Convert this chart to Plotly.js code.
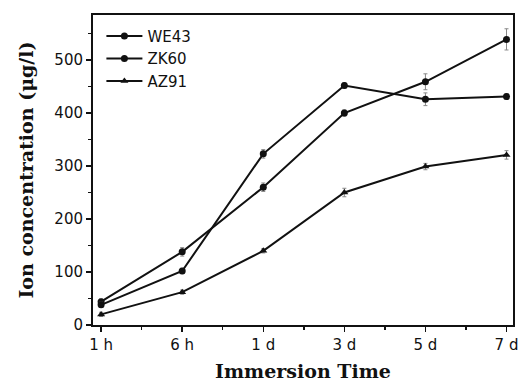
<!DOCTYPE html>
<html><head><meta charset="utf-8">
<script src="https://cdn.plot.ly/plotly-3.0.1.min.js"></script>
<style>body{margin:0;background:#fff}#c{width:523px;height:383px}</style>
</head><body><div id="c"></div>
<script>
const categories = ['1 h','6 h','1 d','3 d','5 d','7 d'];
const we43 = [44, 138, 260, 400, 459, 539];
const we43Err = [5, 8, 8, 6, 15, 20];
const zk60 = [38, 102, 323, 452, 426, 431];
const zk60Err = [5, 5, 8, 5, 12, 5];
const az91 = [20, 62, 140, 250, 299, 321];
const az91Err = [4, 4, 4, 8, 6, 8];

const xIdx = categories.map((_, i) => i);
function tr(name, y, err, sym, size) {
  return {x: xIdx, y: y, name: name, type: 'scatter', mode: 'lines+markers',
    line: {color: '#111', width: 2},
    marker: {color: '#111', symbol: sym, size: size},
    error_y: {type: 'data', array: err, visible: true, color: '#888', thickness: 1, width: 2}};
}
const data = [
  tr('WE43', we43, we43Err, 'circle', 7),
  tr('ZK60', zk60, zk60Err, 'circle', 7),
  tr('AZ91', az91, az91Err, 'triangle-up', 7)
];
const tickFont = {family: 'DejaVu Sans', size: 15, color: '#111'};
const titleFont = {family: 'DejaVu Serif', size: 19, color: '#111', weight: 'bold'};
const layout = {
  width: 523, height: 383,
  margin: {l: 93, r: 10, t: 15, b: 58},
  paper_bgcolor: '#fff', plot_bgcolor: '#fff',
  showlegend: true,
  legend: {x: 0.02, y: 0.985, xanchor: 'left', yanchor: 'top', bgcolor: 'rgba(0,0,0,0)',
    font: {family: 'DejaVu Sans', size: 15, color: '#111'}, tracegroupgap: 0,
    itemwidth: 36},
  xaxis: {range: [-0.1, 5.08], tickmode: 'array', tickvals: xIdx, ticktext: categories,
    showgrid: false, zeroline: false, showline: true, linecolor: '#111', linewidth: 2, mirror: true,
    ticks: 'outside', ticklen: 5, tickwidth: 1.5, tickcolor: '#111',
    minor: {tickmode: 'linear', tick0: 0.5, dtick: 1, ticks: 'outside', ticklen: 3, tickcolor: '#111', showgrid: false},
    tickfont: tickFont, automargin: false,
    title: {text: 'Immersion Time', standoff: 12, font: titleFont}},
  yaxis: {range: [0, 585], tickmode: 'linear', tick0: 0, dtick: 100,
    showgrid: false, zeroline: false, showline: true, linecolor: '#111', linewidth: 2, mirror: true,
    ticks: 'outside', ticklen: 5, tickwidth: 1.5, tickcolor: '#111',
    minor: {tick0: 0, dtick: 50, ticks: 'outside', ticklen: 3, tickcolor: '#111', showgrid: false},
    tickfont: tickFont,
    title: {text: 'Ion concentration (μg/l)', standoff: 16, font: titleFont}}
};
Plotly.newPlot('c', data, layout, {displayModeBar: false, staticPlot: true});
</script></body></html>
